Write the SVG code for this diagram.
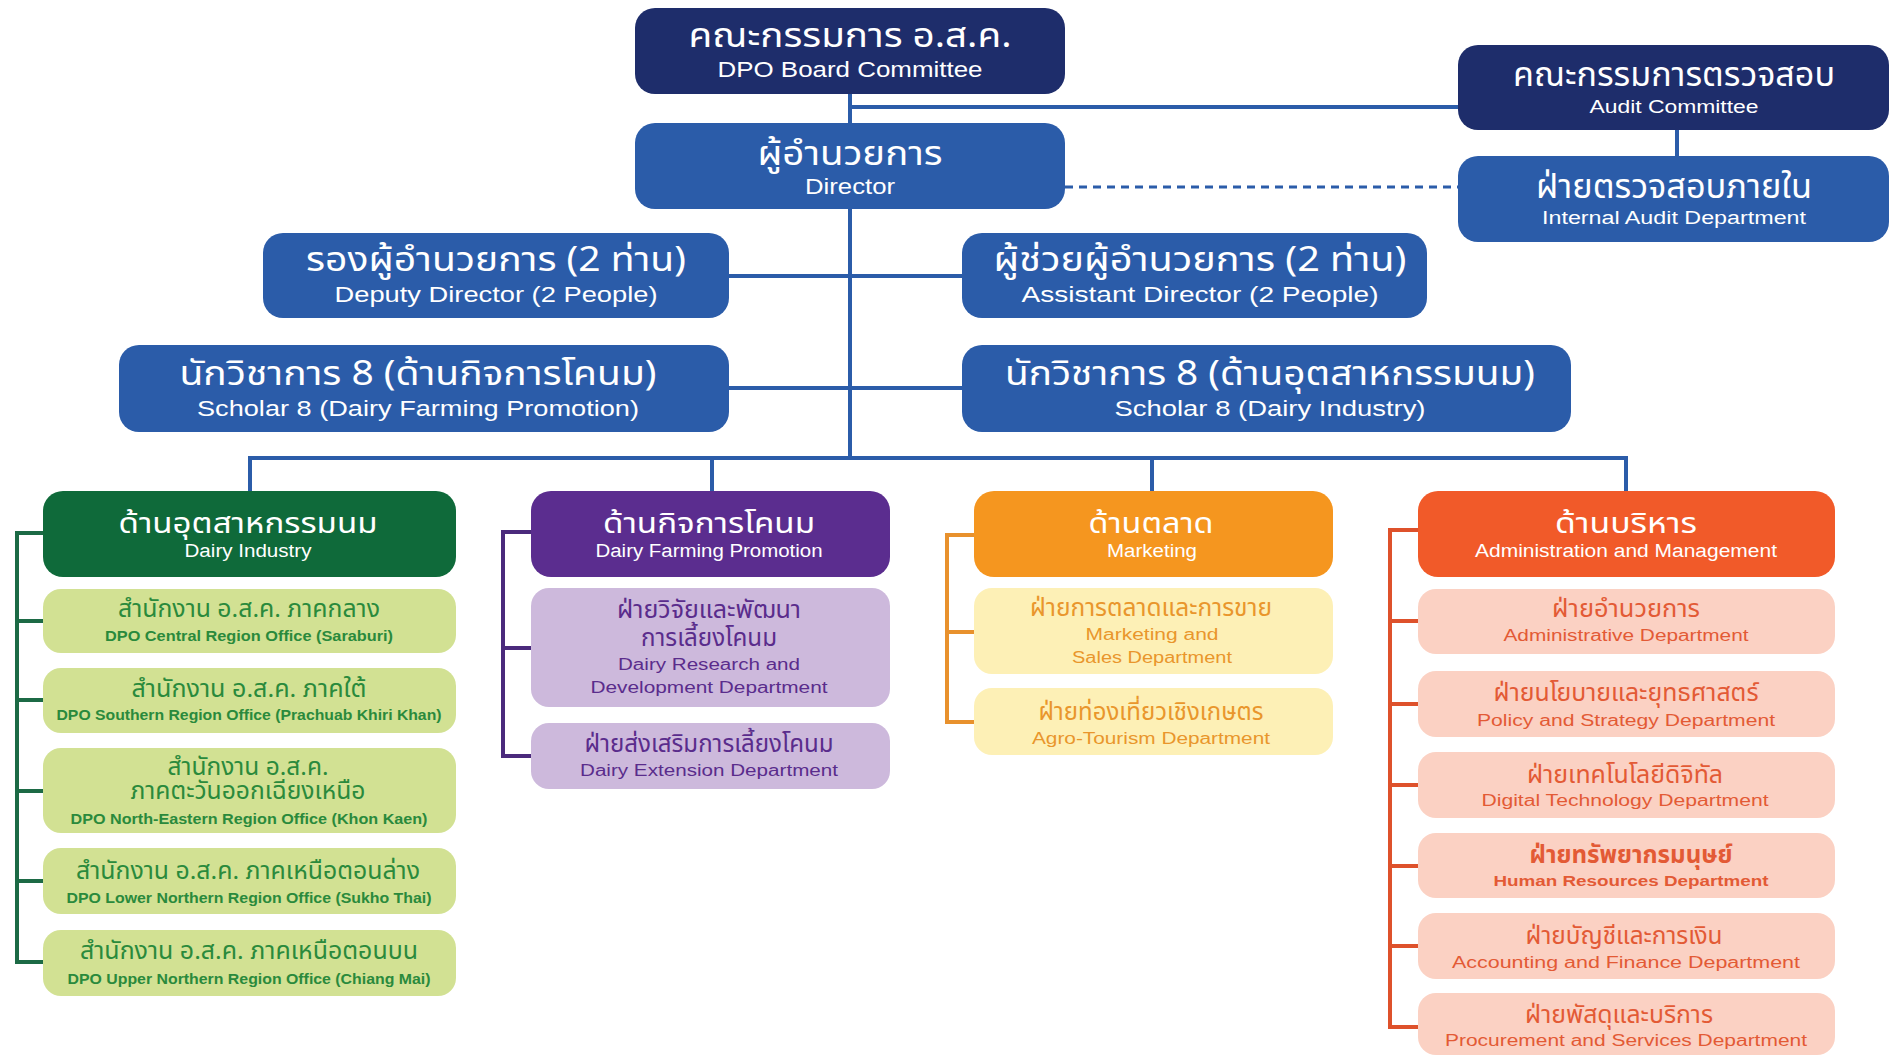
<svg xmlns="http://www.w3.org/2000/svg" width="1892" height="1057" viewBox="0 0 1892 1057">
<style>
text{text-anchor:middle}
.th{font-family:"Noto Sans Thai","Noto Sans","DejaVu Sans",sans-serif}
.en{font-family:"Liberation Sans","Noto Sans",sans-serif}
.w{fill:#ffffff}
.navy{fill:#1e2d6b}
.blue{fill:#2b5ca9}
.t1{font-size:34px}
.e1{font-size:22px}
.t2{font-size:29px}
.e2{font-size:18px}
.t3{font-size:24px}
.e3{font-size:16px}
.e4{font-size:14px;font-weight:bold}
.gH{fill:#0f6a3a}.gS{fill:#d2e193}.gT{fill:#2a8a3c}
.pH{fill:#5b2d8f}.pS{fill:#cdb9dc}.pT{fill:#5a2c8c}
.oH{fill:#f5961f}.oS{fill:#fdf0b6}.oT{fill:#e9962c}
.rH{fill:#f15a29}.rS{fill:#fbd1c3}.rT{fill:#e35a35}
.ln{fill:none;stroke:#2b5ca9;stroke-width:4}
.dash{fill:none;stroke:#2b5ca9;stroke-width:3;stroke-dasharray:8 6}
.gL{fill:none;stroke:#1c6a45;stroke-width:4}
.pL{fill:none;stroke:#4b2a7c;stroke-width:4}
.oL{fill:none;stroke:#e8912d;stroke-width:4}
.rL{fill:none;stroke:#de512b;stroke-width:4}
</style>
<rect width="1892" height="1057" fill="#ffffff"/>
<g id="connectors">
<path class="ln" d="M850 94V458M850 107H1458M1677 130V156M729 276H962M729 388H962M250 458H1626M250 456V491M712 456V491M1152 456V491M1626 456V491"/>
<path class="dash" d="M1065 187H1458"/>
<path class="gL" d="M43 533H17V962H43M17 621H43M17 700H43M17 791H43M17 881H43"/>
<path class="pL" d="M531 532H503V756H531M503 648H531"/>
<path class="oL" d="M974 535H947V722H974M947 632H974"/>
<path class="rL" d="M1418 530H1390V1027H1418M1390 621H1418M1390 704H1418M1390 785H1418M1390 866H1418M1390 946H1418"/>
</g>
<g id="board">
<rect x="635" y="8" width="430" height="86" rx="20" class="navy"/>
<text x="850" y="47" class="th t1 w" textLength="323" lengthAdjust="spacingAndGlyphs">คณะกรรมการ อ.ส.ค.</text>
<text x="850" y="77" class="en e1 w" textLength="265" lengthAdjust="spacingAndGlyphs">DPO Board Committee</text>
</g>
<g id="audit-committee">
<rect x="1458" y="45" width="431" height="85" rx="20" class="navy"/>
<text x="1674" y="86" class="th t1 w" textLength="322" lengthAdjust="spacingAndGlyphs">คณะกรรมการตรวจสอบ</text>
<text x="1674" y="113" class="en e2 w" textLength="169" lengthAdjust="spacingAndGlyphs">Audit Committee</text>
</g>
<g id="director">
<rect x="635" y="123" width="430" height="86" rx="20" class="blue"/>
<text x="850" y="165" class="th t1 w" textLength="185" lengthAdjust="spacingAndGlyphs">ผู้อำนวยการ</text>
<text x="850" y="194" class="en e1 w" textLength="90" lengthAdjust="spacingAndGlyphs">Director</text>
</g>
<g id="internal-audit">
<rect x="1458" y="156" width="431" height="86" rx="20" class="blue"/>
<text x="1674" y="198" class="th t1 w" textLength="276" lengthAdjust="spacingAndGlyphs">ฝ่ายตรวจสอบภายใน</text>
<text x="1674" y="224" class="en e2 w" textLength="264" lengthAdjust="spacingAndGlyphs">Internal Audit Department</text>
</g>
<g id="deputy">
<rect x="263" y="233" width="466" height="85" rx="20" class="blue"/>
<text x="496" y="271" class="th t1 w" textLength="380" lengthAdjust="spacingAndGlyphs">รองผู้อำนวยการ (2 ท่าน)</text>
<text x="496" y="302" class="en e1 w" textLength="323" lengthAdjust="spacingAndGlyphs">Deputy Director (2 People)</text>
</g>
<g id="assistant">
<rect x="962" y="233" width="465" height="85" rx="20" class="blue"/>
<text x="1200" y="271" class="th t1 w" textLength="413" lengthAdjust="spacingAndGlyphs">ผู้ช่วยผู้อำนวยการ (2 ท่าน)</text>
<text x="1200" y="302" class="en e1 w" textLength="357" lengthAdjust="spacingAndGlyphs">Assistant Director (2 People)</text>
</g>
<g id="scholar-farming">
<rect x="119" y="345" width="610" height="87" rx="20" class="blue"/>
<text x="418" y="385" class="th t1 w" textLength="477" lengthAdjust="spacingAndGlyphs">นักวิชาการ 8 (ด้านกิจการโคนม)</text>
<text x="418" y="416" class="en e1 w" textLength="442" lengthAdjust="spacingAndGlyphs">Scholar 8 (Dairy Farming Promotion)</text>
</g>
<g id="scholar-industry">
<rect x="962" y="345" width="609" height="87" rx="20" class="blue"/>
<text x="1270" y="385" class="th t1 w" textLength="530" lengthAdjust="spacingAndGlyphs">นักวิชาการ 8 (ด้านอุตสาหกรรมนม)</text>
<text x="1270" y="416" class="en e1 w" textLength="311" lengthAdjust="spacingAndGlyphs">Scholar 8 (Dairy Industry)</text>
</g>
<g id="dairy-industry">
<rect x="43" y="491" width="413" height="86" rx="20" class="gH"/>
<text x="248" y="533" class="th t2 w" textLength="259" lengthAdjust="spacingAndGlyphs">ด้านอุตสาหกรรมนม</text>
<text x="248" y="557" class="en e2 w" textLength="127" lengthAdjust="spacingAndGlyphs">Dairy Industry</text>
</g>
<g id="central-office">
<rect x="43" y="589" width="413" height="64" rx="18" class="gS"/>
<text x="249" y="617" class="th t3 gT" textLength="262" lengthAdjust="spacingAndGlyphs">สำนักงาน อ.ส.ค. ภาคกลาง</text>
<text x="249" y="641" class="en e4 gT" textLength="288" lengthAdjust="spacingAndGlyphs">DPO Central Region Office (Saraburi)</text>
</g>
<g id="southern-office">
<rect x="43" y="668" width="413" height="65" rx="18" class="gS"/>
<text x="249" y="697" class="th t3 gT" textLength="235" lengthAdjust="spacingAndGlyphs">สำนักงาน อ.ส.ค. ภาคใต้</text>
<text x="249" y="720" class="en e4 gT" textLength="385" lengthAdjust="spacingAndGlyphs">DPO Southern Region Office (Prachuab Khiri Khan)</text>
</g>
<g id="northeastern-office">
<rect x="43" y="748" width="413" height="85" rx="18" class="gS"/>
<text x="248" y="775" class="th t3 gT" textLength="161" lengthAdjust="spacingAndGlyphs">สำนักงาน อ.ส.ค.</text>
<text x="248" y="799" class="th t3 gT" textLength="235" lengthAdjust="spacingAndGlyphs">ภาคตะวันออกเฉียงเหนือ</text>
<text x="249" y="824" class="en e4 gT" textLength="357" lengthAdjust="spacingAndGlyphs">DPO North-Eastern Region Office (Khon Kaen)</text>
</g>
<g id="lower-northern-office">
<rect x="43" y="848" width="413" height="66" rx="18" class="gS"/>
<text x="248" y="879" class="th t3 gT" textLength="344" lengthAdjust="spacingAndGlyphs">สำนักงาน อ.ส.ค. ภาคเหนือตอนล่าง</text>
<text x="249" y="903" class="en e4 gT" textLength="365" lengthAdjust="spacingAndGlyphs">DPO Lower Northern Region Office (Sukho Thai)</text>
</g>
<g id="upper-northern-office">
<rect x="43" y="930" width="413" height="66" rx="18" class="gS"/>
<text x="249" y="959" class="th t3 gT" textLength="338" lengthAdjust="spacingAndGlyphs">สำนักงาน อ.ส.ค. ภาคเหนือตอนบน</text>
<text x="249" y="984" class="en e4 gT" textLength="363" lengthAdjust="spacingAndGlyphs">DPO Upper Northern Region Office (Chiang Mai)</text>
</g>
<g id="dairy-farming">
<rect x="531" y="491" width="359" height="86" rx="20" class="pH"/>
<text x="709" y="533" class="th t2 w" textLength="212" lengthAdjust="spacingAndGlyphs">ด้านกิจการโคนม</text>
<text x="709" y="557" class="en e2 w" textLength="227" lengthAdjust="spacingAndGlyphs">Dairy Farming Promotion</text>
</g>
<g id="research-dept">
<rect x="531" y="588" width="359" height="119" rx="18" class="pS"/>
<text x="709" y="618" class="th t3 pT" textLength="184" lengthAdjust="spacingAndGlyphs">ฝ่ายวิจัยและพัฒนา</text>
<text x="709" y="646" class="th t3 pT" textLength="136" lengthAdjust="spacingAndGlyphs">การเลี้ยงโคนม</text>
<text x="709" y="670" class="en e3 pT" textLength="182" lengthAdjust="spacingAndGlyphs">Dairy Research and</text>
<text x="709" y="693" class="en e3 pT" textLength="237" lengthAdjust="spacingAndGlyphs">Development Department</text>
</g>
<g id="extension-dept">
<rect x="531" y="723" width="359" height="66" rx="18" class="pS"/>
<text x="709" y="752" class="th t3 pT" textLength="249" lengthAdjust="spacingAndGlyphs">ฝ่ายส่งเสริมการเลี้ยงโคนม</text>
<text x="709" y="776" class="en e3 pT" textLength="258" lengthAdjust="spacingAndGlyphs">Dairy Extension Department</text>
</g>
<g id="marketing">
<rect x="974" y="491" width="359" height="86" rx="20" class="oH"/>
<text x="1151" y="533" class="th t2 w" textLength="125" lengthAdjust="spacingAndGlyphs">ด้านตลาด</text>
<text x="1152" y="557" class="en e2 w" textLength="90" lengthAdjust="spacingAndGlyphs">Marketing</text>
</g>
<g id="sales-dept">
<rect x="974" y="588" width="359" height="86" rx="18" class="oS"/>
<text x="1151" y="616" class="th t3 oT" textLength="242" lengthAdjust="spacingAndGlyphs">ฝ่ายการตลาดและการขาย</text>
<text x="1152" y="640" class="en e3 oT" textLength="133" lengthAdjust="spacingAndGlyphs">Marketing and</text>
<text x="1152" y="663" class="en e3 oT" textLength="160" lengthAdjust="spacingAndGlyphs">Sales Department</text>
</g>
<g id="agro-tourism-dept">
<rect x="974" y="688" width="359" height="67" rx="18" class="oS"/>
<text x="1151" y="720" class="th t3 oT" textLength="225" lengthAdjust="spacingAndGlyphs">ฝ่ายท่องเที่ยวเชิงเกษตร</text>
<text x="1151" y="744" class="en e3 oT" textLength="238" lengthAdjust="spacingAndGlyphs">Agro-Tourism Department</text>
</g>
<g id="administration">
<rect x="1418" y="491" width="417" height="86" rx="20" class="rH"/>
<text x="1626" y="533" class="th t2 w" textLength="142" lengthAdjust="spacingAndGlyphs">ด้านบริหาร</text>
<text x="1626" y="557" class="en e2 w" textLength="302" lengthAdjust="spacingAndGlyphs">Administration and Management</text>
</g>
<g id="admin-dept">
<rect x="1418" y="589" width="417" height="65" rx="18" class="rS"/>
<text x="1626" y="617" class="th t3 rT" textLength="148" lengthAdjust="spacingAndGlyphs">ฝ่ายอำนวยการ</text>
<text x="1626" y="641" class="en e3 rT" textLength="245" lengthAdjust="spacingAndGlyphs">Administrative Department</text>
</g>
<g id="policy-dept">
<rect x="1418" y="671" width="417" height="66" rx="18" class="rS"/>
<text x="1626" y="701" class="th t3 rT" textLength="265" lengthAdjust="spacingAndGlyphs">ฝ่ายนโยบายและยุทธศาสตร์</text>
<text x="1626" y="726" class="en e3 rT" textLength="298" lengthAdjust="spacingAndGlyphs">Policy and Strategy Department</text>
</g>
<g id="digital-dept">
<rect x="1418" y="752" width="417" height="66" rx="18" class="rS"/>
<text x="1625" y="783" class="th t3 rT" textLength="196" lengthAdjust="spacingAndGlyphs">ฝ่ายเทคโนโลยีดิจิทัล</text>
<text x="1625" y="806" class="en e3 rT" textLength="287" lengthAdjust="spacingAndGlyphs">Digital Technology Department</text>
</g>
<g id="hr-dept">
<rect x="1418" y="833" width="417" height="65" rx="18" class="rS"/>
<text x="1631" y="863" class="th t3 rT" font-weight="bold" textLength="203" lengthAdjust="spacingAndGlyphs">ฝ่ายทรัพยากรมนุษย์</text>
<text x="1631" y="886" class="en e4 rT" textLength="275" lengthAdjust="spacingAndGlyphs">Human Resources Department</text>
</g>
<g id="finance-dept">
<rect x="1418" y="913" width="417" height="66" rx="18" class="rS"/>
<text x="1624" y="944" class="th t3 rT" textLength="197" lengthAdjust="spacingAndGlyphs">ฝ่ายบัญชีและการเงิน</text>
<text x="1626" y="968" class="en e3 rT" textLength="348" lengthAdjust="spacingAndGlyphs">Accounting and Finance Department</text>
</g>
<g id="procurement-dept">
<rect x="1418" y="993" width="417" height="62" rx="18" class="rS"/>
<text x="1619" y="1023" class="th t3 rT" textLength="188" lengthAdjust="spacingAndGlyphs">ฝ่ายพัสดุและบริการ</text>
<text x="1626" y="1046" class="en e3 rT" textLength="362" lengthAdjust="spacingAndGlyphs">Procurement and Services Department</text>
</g>
</svg>
